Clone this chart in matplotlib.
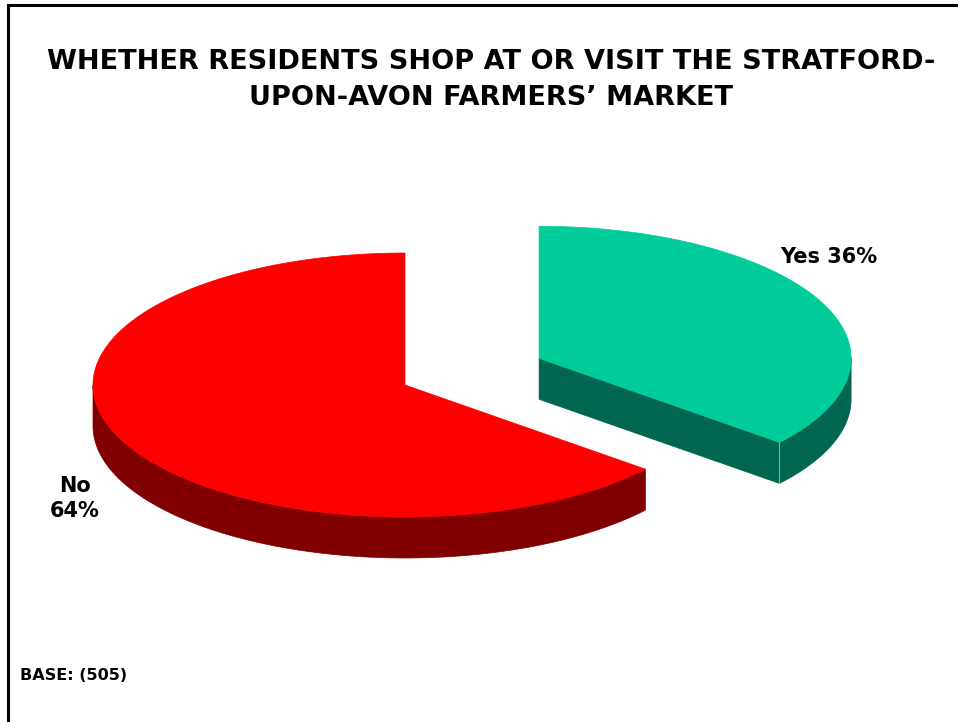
import numpy as np
import matplotlib
matplotlib.use("Agg")
import matplotlib.pyplot as plt
from matplotlib.patches import Polygon
from matplotlib.lines import Line2D

# Survey answers
categories = ["Yes", "No"]
shares = [36, 64]
explode = [0.475, 0.0]
top_colors = ["#00CC99", "#FF0000"]
side_colors = ["#006650", "#800000"]
base_n = 505
title_lines = ["WHETHER RESIDENTS SHOP AT OR VISIT THE STRATFORD-",
               "UPON-AVON FARMERS\u2019 MARKET"]

W, H = 958, 722
fig = plt.figure(figsize=(W / 100, H / 100), dpi=100)
ax = fig.add_axes([0, 0, 1, 1])
ax.set_xlim(0, W)
ax.set_ylim(H, 0)
ax.axis("off")

# Pie geometry (tilted disc, pixel units)
cx, cy = 405, 385
rx, ry = 312, 132
depth = 41


def rim(theta_deg, ox, oy, dy=0.0):
    t = np.radians(theta_deg)
    return np.column_stack([ox + rx * np.cos(t), oy - ry * np.sin(t) + dy])


def front_range(a_lo, a_hi):
    """Part of [a_lo, a_hi] (degrees) lying on the front half (180..360 mod 360)."""
    segs = []
    for k in range(-2, 3):
        lo, hi = 180 + 360 * k, 360 + 360 * k
        s, e = max(a_lo, lo), min(a_hi, hi)
        if e > s:
            segs.append((s, e))
    return segs


total = float(sum(shares))
start = 90.0
slices = []
for name, val, ex, tc, sc in zip(categories, shares, explode, top_colors, side_colors):
    sweep = 360.0 * val / total
    a_hi = start
    a_lo = start - sweep
    mid = np.radians((a_hi + a_lo) / 2)
    ox = cx + rx * ex * np.cos(mid)
    oy = cy - ry * ex * np.sin(mid)
    slices.append(dict(name=name, val=val, a_lo=a_lo, a_hi=a_hi, ox=ox, oy=oy, tc=tc, sc=sc))
    start = a_lo

for s in slices:
    ox, oy = s["ox"], s["oy"]
    # radial side wall facing the viewer
    for edge, normal in ((s["a_lo"], s["a_lo"] - 90), (s["a_hi"], s["a_hi"] + 90)):
        if np.sin(np.radians(normal)) < -1e-6:
            p = rim([edge], ox, oy)[0]
            quad = [(ox, oy), tuple(p), (p[0], p[1] + depth), (ox, oy + depth)]
            ax.add_patch(Polygon(quad, closed=True, facecolor=s["sc"], edgecolor=s["sc"], lw=0.5))
    # curved outer wall
    for a, b in front_range(s["a_lo"], s["a_hi"]):
        th = np.linspace(a, b, 200)
        upper = rim(th, ox, oy)
        lower = rim(th[::-1], ox, oy, depth)
        ax.add_patch(Polygon(np.vstack([upper, lower]), closed=True,
                             facecolor=s["sc"], edgecolor=s["sc"], lw=0.5))
    # seam between radial and curved wall
    p = rim([s["a_lo"]], ox, oy)[0]
    if np.sin(np.radians(s["a_lo"])) < 0 and np.sin(np.radians(s["a_lo"] - 90)) < 0:
        ax.add_line(Line2D([p[0], p[0]], [p[1], p[1] + depth], color="#7fb3a5", lw=0.8))
    # top face
    th = np.linspace(s["a_lo"], s["a_hi"], 300)
    top = np.vstack([[ox, oy], rim(th, ox, oy)])
    ax.add_patch(Polygon(top, closed=True, facecolor=s["tc"], edgecolor=s["tc"], lw=0.5))

font = "DejaVu Sans"
for y, line in zip((62, 98), title_lines):
    ax.text(491, y, line, ha="center", va="center", fontsize=19.5, fontweight="bold",
            family=font)

ax.text(829, 257, f"{slices[0]['name']} {slices[0]['val']}%", ha="center", va="center",
        fontsize=15, fontweight="bold", family=font)
ax.text(75, 486, slices[1]["name"], ha="center", va="center",
        fontsize=15, fontweight="bold", family=font)
ax.text(75, 511, f"{slices[1]['val']}%", ha="center", va="center",
        fontsize=15, fontweight="bold", family=font)

ax.text(20, 676, f"BASE: ({base_n})", ha="left", va="center", fontsize=11.6,
        fontweight="bold", family=font)

# frame: top and left rules
ax.add_line(Line2D([8, W], [5, 5], color="black", lw=2.2))
ax.add_line(Line2D([8, 8], [5, H], color="black", lw=2.2))

fig.savefig("out.png", dpi=100)
